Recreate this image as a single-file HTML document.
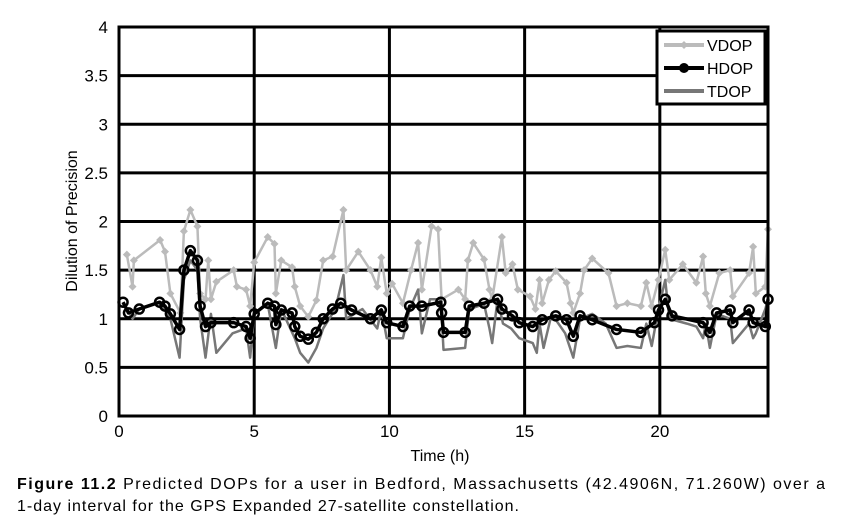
<!DOCTYPE html>
<html><head><meta charset="utf-8"><style>
body{margin:0;background:#fff;width:865px;height:522px;overflow:hidden;font-family:"Liberation Sans",sans-serif}
</style></head><body>
<svg id="chart" width="865" height="522" xmlns="http://www.w3.org/2000/svg" font-family="Liberation Sans, sans-serif">
<g id="grid"></g>
<g id="series"></g>
<g id="axes"></g>
<text x="440" y="461" font-size="16" text-anchor="middle">Time (h)</text>
<text transform="translate(77,221) rotate(-90)" font-size="16" text-anchor="middle">Dilution of Precision</text>
<g>
<rect x="657" y="31" width="108" height="73" fill="#fff" stroke="#000" stroke-width="3"/>
<g><line x1="664" y1="45" x2="704" y2="45" stroke="#bbb" stroke-width="4"/><path d="M684 41 L688 45 L684 49 L680 45Z" fill="#bbb"/><text x="707" y="51" font-size="16">VDOP</text></g>
<g><line x1="664" y1="68" x2="704" y2="68" stroke="#000" stroke-width="4"/><circle cx="684" cy="68" r="5" fill="#000"/><text x="707" y="74" font-size="16">HDOP</text></g>
<g><line x1="664" y1="91" x2="704" y2="91" stroke="#777" stroke-width="4"/><text x="707" y="97" font-size="16">TDOP</text></g>
</g>
<text x="17" y="489" font-size="16" textLength="808" lengthAdjust="spacing"><tspan font-weight="bold">Figure 11.2</tspan>   Predicted DOPs for a user in Bedford, Massachusetts (42.4906N, 71.260W) over a</text>
<text x="17" y="511" font-size="16" textLength="502" lengthAdjust="spacing">1-day interval for the GPS Expanded 27-satellite constellation.</text>
</svg>
<script>
const vT=[0.29,0.5,0.55,1.52,1.7,1.9,2.27,2.4,2.64,2.9,3.0,3.2,3.3,3.4,3.6,4.24,4.36,4.7,4.85,5.0,5.5,5.75,5.8,6.0,6.4,6.5,6.7,7.0,7.3,7.55,7.9,8.3,8.4,8.85,9.3,9.55,9.7,9.9,10.1,10.5,10.8,11.06,11.2,11.56,11.8,11.93,12.55,12.8,12.9,13.1,13.5,13.7,13.8,14.16,14.3,14.55,14.75,15.2,15.4,15.55,15.65,15.9,16.15,16.55,16.7,16.8,17.05,17.2,17.5,18.1,18.4,18.8,19.3,19.5,19.7,19.95,20.2,20.35,20.85,21.35,21.6,21.7,21.85,22.2,22.6,22.7,23.3,23.45,23.55,23.9,24.0];
const vV=[1.66,1.33,1.6,1.81,1.69,1.26,1.06,1.9,2.12,1.95,1.26,1.2,1.6,1.2,1.38,1.5,1.33,1.3,1.13,1.58,1.84,1.77,1.26,1.6,1.53,1.33,1.13,1.02,1.19,1.6,1.64,2.12,1.5,1.69,1.5,1.33,1.63,1.26,1.36,1.16,1.5,1.78,1.3,1.95,1.92,1.2,1.3,1.2,1.6,1.78,1.61,1.3,1.2,1.84,1.47,1.56,1.3,1.23,1.1,1.4,1.16,1.4,1.49,1.37,1.16,1.06,1.26,1.5,1.62,1.47,1.13,1.16,1.13,1.37,1.13,1.4,1.71,1.4,1.56,1.37,1.64,1.26,1.13,1.47,1.5,1.23,1.47,1.74,1.26,1.33,1.92];
const hT=[0.15,0.35,0.75,1.5,1.7,1.9,2.24,2.4,2.64,2.9,3.0,3.2,3.4,4.24,4.7,4.85,5.0,5.5,5.75,5.8,6.0,6.4,6.5,6.7,7.0,7.3,7.55,7.9,8.2,8.6,9.3,9.7,9.9,10.5,10.75,11.2,11.9,11.93,12.0,12.8,12.95,13.5,14.0,14.16,14.55,14.8,15.3,15.65,16.15,16.55,16.8,17.05,17.5,18.4,19.3,19.8,19.95,20.2,20.45,21.6,21.85,22.1,22.6,22.7,23.3,23.45,23.9,24.0];
const hV=[1.17,1.06,1.1,1.17,1.13,1.05,0.89,1.5,1.7,1.6,1.13,0.92,0.96,0.96,0.92,0.8,1.05,1.16,1.13,0.94,1.09,1.06,0.92,0.82,0.79,0.86,1.0,1.1,1.16,1.09,1.0,1.09,0.96,0.92,1.13,1.13,1.17,1.06,0.86,0.86,1.13,1.16,1.2,1.1,1.03,0.96,0.92,0.99,1.03,0.99,0.82,1.03,0.99,0.89,0.86,0.96,1.09,1.2,1.03,0.96,0.86,1.06,1.09,0.96,1.09,0.96,0.92,1.2];
const tT=[0.15,0.5,0.75,1.5,1.9,2.24,2.4,2.64,2.9,3.0,3.2,3.4,3.6,4.2,4.7,4.85,5.0,5.5,5.8,6.0,6.5,6.7,7.0,7.3,7.55,8.0,8.3,8.4,9.0,9.55,9.7,9.9,10.5,10.75,11.06,11.2,11.5,11.9,12.0,12.8,12.95,13.5,13.7,13.8,14.0,14.2,14.5,14.8,15.3,15.45,15.55,15.7,16.0,16.5,16.8,17.05,17.5,18.0,18.4,18.8,19.3,19.5,19.7,19.95,20.2,20.35,21.0,21.35,21.6,21.7,21.85,22.1,22.6,22.7,23.3,23.45,23.55,23.9,24.0];
const tV=[1.17,1.0,1.1,1.17,1.0,0.6,1.4,1.6,1.5,1.0,0.6,1.05,0.65,0.85,0.9,0.6,1.05,1.15,0.7,1.1,0.8,0.65,0.55,0.7,0.9,1.1,1.45,1.0,1.1,0.9,1.1,0.8,0.8,1.1,1.3,0.85,1.2,1.2,0.68,0.7,1.1,1.15,0.9,0.75,1.2,0.95,0.9,0.8,0.75,0.65,0.95,0.7,1.05,0.85,0.6,1.0,1.05,0.95,0.7,0.72,0.7,0.95,0.72,1.1,1.4,1.0,0.95,0.92,0.8,0.95,0.7,1.05,1.0,0.75,0.95,0.8,0.85,1.1,1.2];
const yTicks=["0","0.5","1","1.5","2","2.5","3","3.5","4"];
const xTicks=["0","5","10","15","20"];
const X0=119,X1=768,Y0=416,Y1=27;
const sx=t=>X0+(X1-X0)*t/24;
const sy=v=>Y0-(Y0-Y1)*v/4;
const NS="http://www.w3.org/2000/svg";
function mk(tag,parent,attrs){const e=document.createElementNS(NS,tag);for(const k in attrs)e.setAttribute(k,attrs[k]);parent.appendChild(e);return e;}
const grid=document.getElementById('grid'),axes=document.getElementById('axes'),ser=document.getElementById('series');
yTicks.forEach(s=>{const v=parseFloat(s);
 const l=mk('line',grid,{x1:X0,x2:X1,y1:sy(v),y2:sy(v),stroke:'#000','stroke-width':3});
 
 
 const t=mk('text',axes,{x:108,y:sy(v)+6,'font-size':17,'text-anchor':'end'});t.textContent=s;
 
 
});
xTicks.forEach(s=>{const v=parseFloat(s);
 const l=mk('line',grid,{x1:sx(v),x2:sx(v),y1:Y1,y2:Y0,stroke:'#000','stroke-width':3});
 
 
 const t=mk('text',axes,{x:sx(v),y:437,'font-size':17,'text-anchor':'middle'});t.textContent=s;
 
 
});
const fr=mk('rect',axes,{x:X0,y:Y1,width:X1-X0,height:Y0-Y1,fill:'none',stroke:'#000','stroke-width':3});


function line(T,V,col,w,name){
 const p=mk('polyline',ser,{points:T.map((t,i)=>sx(t)+','+sy(V[i])).join(' '),fill:'none',stroke:col,'stroke-width':w,'stroke-linejoin':'round'});
 
 
}
line(vT,vV,'#bbb',2.5,'vdop-line');
vT.forEach((t,i)=>{const x=sx(t),y=sy(vV[i]);
 const d=mk('path',ser,{d:`M${x} ${y-4}L${x+4} ${y}L${x} ${y+4}L${x-4} ${y}Z`,fill:'#bbb'});
 
 
});
line(tT,tV,'#777',2.5,'tdop-line');
line(hT,hV,'#000',3.5,'hdop-line');
hT.forEach((t,i)=>{
 const c=mk('circle',ser,{cx:sx(t),cy:sy(hV[i]),r:4.5,fill:'none',stroke:'#000','stroke-width':2.5});
 
 
});
</script>
</body></html>
